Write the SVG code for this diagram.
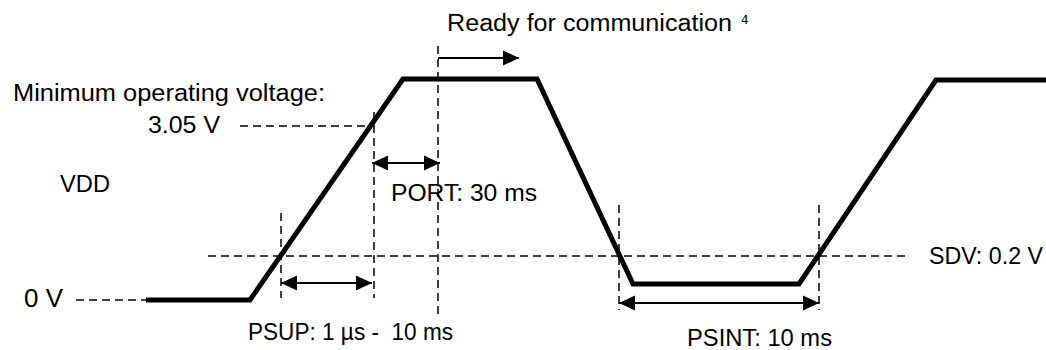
<svg xmlns="http://www.w3.org/2000/svg" width="1046" height="350" viewBox="0 0 1046 350">
<style>
  .t { font-family: "Liberation Sans", Arial, sans-serif; font-size: 23px; fill: #000; }
  .dash { stroke: #000; stroke-width: 1.5; stroke-dasharray: 8 5; fill: none; }
  .wave { stroke: #000; stroke-width: 5; fill: none; stroke-linejoin: miter; }
  .arr { stroke: #000; stroke-width: 2; fill: none; }
</style>
<defs>
  <marker id="ah" markerWidth="18" markerHeight="16" refX="16" refY="8" orient="auto-start-reverse" markerUnits="userSpaceOnUse">
    <path d="M0,0.5 L16,8 L0,15.5 Z" fill="#000"/>
  </marker>
</defs>

<g id="guides">
  <line class="dash" x1="76" y1="300" x2="146" y2="300"/>
  <line class="dash" x1="240" y1="126" x2="374" y2="126"/>
  <line class="dash" x1="208" y1="256" x2="908" y2="256"/>
  <line class="dash" x1="281" y1="213" x2="281" y2="298"/>
  <line class="dash" x1="374" y1="112" x2="374" y2="298"/>
  <line class="dash" x1="438" y1="46" x2="438" y2="316"/>
  <line class="dash" x1="619" y1="205" x2="619" y2="310"/>
  <line class="dash" x1="819" y1="205" x2="819" y2="310"/>
</g>

<g id="vdd-waveform">
  <path class="wave" d="M146,300 L250,300 L403,79 L537,79 L633,284 L799,284 L936,80 L1046,80"/>
</g>

<g id="connectors">
  <line class="arr" x1="438" y1="58" x2="519" y2="58" marker-end="url(#ah)"/>
  <line class="arr" x1="372" y1="163" x2="440" y2="163" marker-start="url(#ah)" marker-end="url(#ah)"/>
  <line class="arr" x1="281" y1="283" x2="372" y2="283" marker-start="url(#ah)" marker-end="url(#ah)"/>
  <line class="arr" x1="619" y1="303" x2="819" y2="303" marker-start="url(#ah)" marker-end="url(#ah)"/>
</g>

<g id="labels">
  <text class="t" x="447" y="31" textLength="285" lengthAdjust="spacingAndGlyphs">Ready for communication</text>
  <text x="741" y="24" style="font-family: 'DejaVu Sans', sans-serif; font-size: 12px;">4</text>
  <text class="t" x="13" y="101" textLength="312" lengthAdjust="spacingAndGlyphs">Minimum operating voltage:</text>
  <text class="t" x="148" y="133" textLength="72" lengthAdjust="spacingAndGlyphs">3.05 V</text>
  <text class="t" x="60" y="192" style="font-size:24px" textLength="50" lengthAdjust="spacingAndGlyphs">VDD</text>
  <text class="t" x="24" y="307" style="font-size:26px" textLength="39" lengthAdjust="spacingAndGlyphs">0 V</text>
  <text class="t" x="391" y="201" textLength="146" lengthAdjust="spacingAndGlyphs">PORT: 30 ms</text>
  <text class="t" x="248" y="340" textLength="205" lengthAdjust="spacingAndGlyphs" xml:space="preserve">PSUP: 1 µs -  10 ms</text>
  <text class="t" x="687" y="346" textLength="145" lengthAdjust="spacingAndGlyphs">PSINT: 10 ms</text>
  <text class="t" x="929" y="264" textLength="114" lengthAdjust="spacingAndGlyphs">SDV: 0.2 V</text>
</g>
</svg>
